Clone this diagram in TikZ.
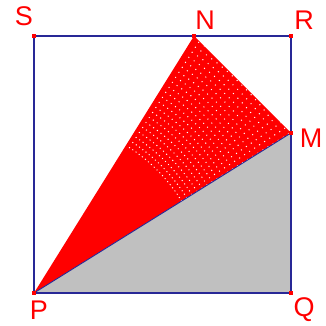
\documentclass[tikz,border=0pt]{standalone}
\usepackage{fontspec}
\setmainfont{Liberation Sans}
\usetikzlibrary{calc}
\definecolor{sqblue}{RGB}{40,40,150}
\definecolor{lgray}{RGB}{192,192,192}
\begin{document}
\begin{tikzpicture}[x=1pt,y=1pt,
  lbl/.style={text=red, font=\fontsize{27}{27}\selectfont, inner sep=0pt},
  pt/.style={fill=red, minimum size=4.5pt, inner sep=0pt, draw=none, rectangle},
  edge/.style={draw=sqblue, line width=2pt}]
\useasboundingbox (0,0) rectangle (326,325);
\coordinate (P) at (34,32);
\coordinate (Q) at (291,32);
\coordinate (R) at (291,289);
\coordinate (S) at (34,289);
\coordinate (N) at (194,289);
\coordinate (M) at (291,192);
\fill[red] (P) -- (N) -- (M) -- cycle;
\begin{scope}
  \clip (P) -- (N) -- (M) -- cycle;
  \foreach \r in {174,180,...,300}{
    \foreach \a in {32,33.3,...,58}{
      \fill[white] ($(P)+(\a:\r)$) circle (0.7pt);
    }
  }
\end{scope}
\fill[lgray] (P) -- (M) -- (Q) -- cycle;
\draw[sqblue, line width=0.9pt] (P) -- (M);
\draw[edge] (P) -- (Q) -- (R) -- (S) -- cycle;
\node[pt] (p) at (P) {};
\node[pt] (q) at (Q) {};
\node[pt] (r) at (R) {};
\node[pt] (s) at (S) {};
\node[pt] (n) at (N) {};
\node[pt] (m) at (M) {};
\node[lbl] (lS) at (24,309) {S};
\node[lbl] (lN) at (205,305) {N};
\node[lbl] (lR) at (304,305) {R};
\node[lbl] (lM) at (311,187) {M};
\node[lbl] (lP) at (39,15) {P};
\node[lbl] (lQ) at (304,15) {Q};
\end{tikzpicture}
\end{document}
